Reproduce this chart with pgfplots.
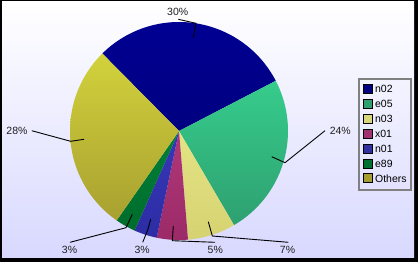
\documentclass[border=0pt]{standalone}
\usepackage{pgfplots}
\pgfplotsset{compat=1.18}
\usepackage{fontspec}
\setmainfont{Liberation Sans}
% legend colours
\definecolor{cA}{RGB}{0,0,128}
\definecolor{cB}{RGB}{46,160,112}
\definecolor{cC}{RGB}{216,214,120}
\definecolor{cD}{RGB}{160,48,112}
\definecolor{cE}{RGB}{48,48,160}
\definecolor{cF}{RGB}{0,112,48}
\definecolor{cG}{RGB}{164,158,48}
% slice shading colours
\definecolor{tA}{RGB}{0,0,146}\definecolor{bA}{RGB}{0,0,128}
\definecolor{tB}{RGB}{54,204,140}\definecolor{bB}{RGB}{46,160,112}
\definecolor{tC}{RGB}{228,228,132}\definecolor{bC}{RGB}{214,210,114}
\definecolor{tD}{RGB}{176,56,120}\definecolor{bD}{RGB}{156,42,104}
\definecolor{tE}{RGB}{56,56,184}\definecolor{bE}{RGB}{44,44,164}
\definecolor{tF}{RGB}{0,128,56}\definecolor{bF}{RGB}{0,108,44}
\definecolor{tG}{RGB}{210,210,60}\definecolor{bG}{RGB}{168,160,48}
\definecolor{bgbot}{RGB}{216,216,255}
\definecolor{lgray}{RGB}{128,128,128}
\begin{document}
\begin{tikzpicture}
% slice values (percent)
\def\vA{29.8}\def\vB{24.2}\def\vC{7.1}\def\vD{4.6}\def\vE{3.4}\def\vF{3.0}\def\vG{27.9}
\pgfmathsetmacro\aA{134.7}
\pgfmathsetmacro\aB{\aA-3.6*\vA}
\pgfmathsetmacro\aC{\aB-3.6*\vB}
\pgfmathsetmacro\aD{\aC-3.6*\vC}
\pgfmathsetmacro\aE{\aD-3.6*\vD}
\pgfmathsetmacro\aF{\aE-3.6*\vE}
\pgfmathsetmacro\aG{\aF-3.6*\vF}
\pgfmathsetmacro\aH{\aG-3.6*\vG}
\begin{axis}[
  scale only axis, width=418pt, height=262pt,
  xmin=0, xmax=418, ymin=0, ymax=262,
  hide axis,
  legend style={at={(axis cs:357.7,184.3)}, anchor=north west,
    draw=lgray, line width=2pt, fill=none,
    font=\fontsize{10.5}{12}\selectfont,
    inner xsep=4.3pt, inner ysep=5.6pt,
    row sep=4.15pt, column sep=2.3pt,
    nodes={inner sep=0pt, text height=8pt, text depth=2pt}},
  legend cell align=left,
  legend image code/.code={\draw[#1, draw=black, line width=0.8pt] (0pt,-3.7pt) rectangle (9pt,5.3pt);},
]
% background
\fill[black] (axis cs:0,0) rectangle (axis cs:418,262);
\shade[top color=white, bottom color=bgbot] (axis cs:2,4) rectangle (axis cs:414,260);
% slices
\addplot[forget plot, draw=none, top color=tA, bottom color=bA, domain=\aB:\aA, samples=80, variable=\t] ({179+109*cos(\t)},{131+109*sin(\t)}) -- (axis cs:179,131) -- cycle;
\addplot[forget plot, draw=none, top color=tB, bottom color=bB, domain=\aC:\aB, samples=80, variable=\t] ({179+109*cos(\t)},{131+109*sin(\t)}) -- (axis cs:179,131) -- cycle;
\addplot[forget plot, draw=none, top color=tC, bottom color=bC, domain=\aD:\aC, samples=30, variable=\t] ({179+109*cos(\t)},{131+109*sin(\t)}) -- (axis cs:179,131) -- cycle;
\addplot[forget plot, draw=none, top color=tD, bottom color=bD, domain=\aE:\aD, samples=20, variable=\t] ({179+109*cos(\t)},{131+109*sin(\t)}) -- (axis cs:179,131) -- cycle;
\addplot[forget plot, draw=none, top color=tE, bottom color=bE, domain=\aF:\aE, samples=20, variable=\t] ({179+109*cos(\t)},{131+109*sin(\t)}) -- (axis cs:179,131) -- cycle;
\addplot[forget plot, draw=none, top color=tF, bottom color=bF, domain=\aG:\aF, samples=20, variable=\t] ({179+109*cos(\t)},{131+109*sin(\t)}) -- (axis cs:179,131) -- cycle;
\addplot[forget plot, draw=none, top color=tG, bottom color=bG, domain=\aH:\aG, samples=80, variable=\t] ({179+109*cos(\t)},{131+109*sin(\t)}) -- (axis cs:179,131) -- cycle;
% leader lines
\addplot[forget plot, black, line width=0.9pt] coordinates {(193.3,224.7) (196,238.7) (178.3,242.7)};
\addplot[forget plot, black, line width=0.9pt] coordinates {(271.7,105.3) (285,99.3) (325,131.3)};
\addplot[forget plot, black, line width=0.9pt] coordinates {(84,122.7) (70.7,120.7) (31.7,131.3)};
\addplot[forget plot, black, line width=0.9pt] coordinates {(132.3,47.7) (126,34.3) (70,19.7)};
\addplot[forget plot, black, line width=0.9pt] coordinates {(150.7,42.7) (147.7,32) (142.7,19.7)};
\addplot[forget plot, black, line width=0.9pt] coordinates {(173.3,36) (172.3,21.3) (215,19.7)};
\addplot[forget plot, black, line width=0.9pt] coordinates {(208.3,40.3) (212.3,26) (288.3,19.7)};
% labels
\begin{scope}[every node/.style={font=\fontsize{10.5}{12}\selectfont, text=black!88, inner sep=0pt}]
\node at (axis cs:177.7,250.3) {30\%};
\node at (axis cs:340.3,131.3) {24\%};
\node at (axis cs:17,131.3) {28\%};
\node at (axis cs:69.5,11.7) {3\%};
\node at (axis cs:142.2,11.7) {3\%};
\node at (axis cs:215.3,11.7) {5\%};
\node at (axis cs:287.5,11.7) {7\%};
\end{scope}
% legend
\addlegendimage{fill=cA}\addlegendentry{n02}
\addlegendimage{fill=cB}\addlegendentry{e05}
\addlegendimage{fill=cC}\addlegendentry{n03}
\addlegendimage{fill=cD}\addlegendentry{x01}
\addlegendimage{fill=cE}\addlegendentry{n01}
\addlegendimage{fill=cF}\addlegendentry{e89}
\addlegendimage{fill=cG}\addlegendentry{Others}
\end{axis}
\end{tikzpicture}
\end{document}
